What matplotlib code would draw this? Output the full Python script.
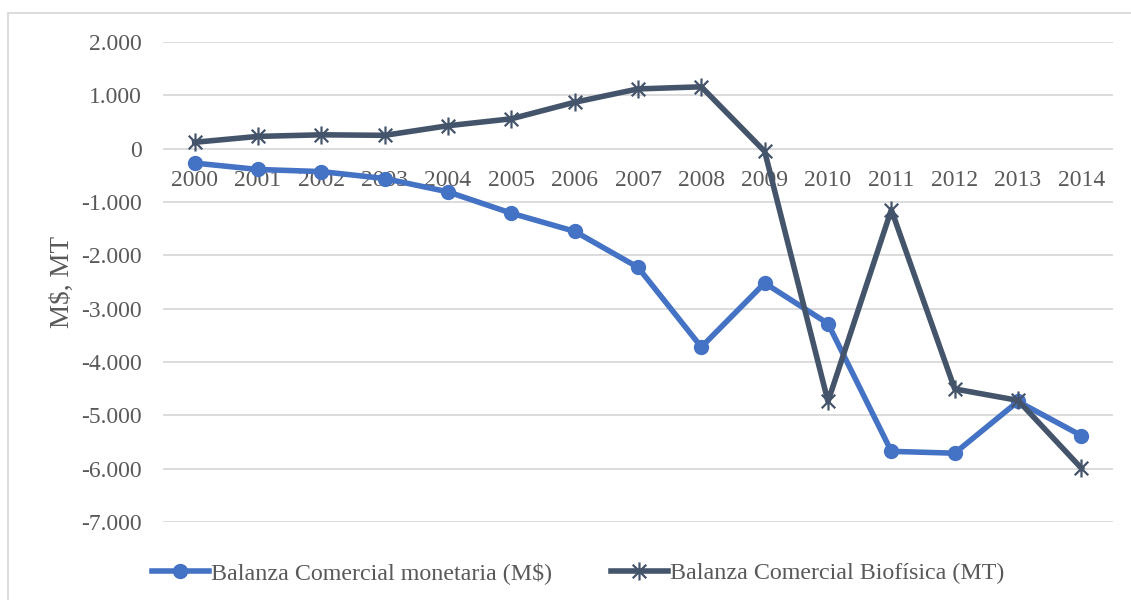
import matplotlib
matplotlib.use("Agg")
import matplotlib.pyplot as plt
from matplotlib.ticker import FuncFormatter
from matplotlib.patches import Rectangle
from matplotlib.path import Path

years = ["2000", "2001", "2002", "2003", "2004", "2005", "2006", "2007",
         "2008", "2009", "2010", "2011", "2012", "2013", "2014"]
monetaria = [-270, -390, -430, -560, -810, -1210, -1550, -2225,
             -3720, -2520, -3280, -5675, -5710, -4740, -5380]
biofisica = [120, 230, 260, 250, 430, 560, 870, 1120,
             1160, -50, -4740, -1145, -4505, -4720, -5990]

label_mon = "Balanza Comercial monetaria (M$)"
label_bio = "Balanza Comercial Biofísica (MT)"
ylabel = "M$, MT"

plt.rcParams['font.family'] = ['Liberation Serif', 'DejaVu Serif']
txt = '#595959'
fs = 17

# Excel-like star marker: vertical bar plus an X
star = Path([(0, -1), (0, 1), (-0.75, -0.75), (0.75, 0.75), (-0.75, 0.75), (0.75, -0.75)],
            [Path.MOVETO, Path.LINETO, Path.MOVETO, Path.LINETO, Path.MOVETO, Path.LINETO])

fig = plt.figure(figsize=(11.31, 6.0), dpi=100)
ax = fig.add_axes([163/1131, 1-522/600, 950/1131, 480/600])

x = list(range(len(years)))
ax.plot(x, monetaria, color='#4472C4', lw=4, marker='o', ms=10,
        label=label_mon, clip_on=False, zorder=3)
ax.plot(x, biofisica, color='#44546A', lw=4, marker=star, ms=13,
        mew=1.6, label=label_bio, clip_on=False, zorder=4)

ax.set_xlim(-0.5, len(years) - 0.5)
ax.set_ylim(-7000, 2000)
ax.set_yticks(range(-7000, 2001, 1000))
ax.yaxis.set_major_formatter(FuncFormatter(lambda v, p: f"{int(v):,}".replace(",", ".")))
ax.grid(axis='y', color='#D9D9D9', lw=1.3)
ax.set_axisbelow(True)
for s in ax.spines.values():
    s.set_visible(False)

ax.spines['bottom'].set_position(('data', 0))
ax.set_xticks(x)
ax.set_xticklabels(years)
ax.tick_params(axis='x', length=0, pad=15, labelsize=fs, colors=txt)
ax.tick_params(axis='y', length=0, pad=15, labelsize=fs, colors=txt)
ax.set_ylabel(ylabel, fontsize=19.5, color=txt, labelpad=5)

fig.legend(loc='center', bbox_to_anchor=(578/1131, 1-573/600), ncol=2,
           frameon=False, fontsize=17.3, labelcolor=txt, handlelength=2.37,
           handletextpad=0.1, columnspacing=2.45)

fig.patches.append(Rectangle((8/1131, -0.1), 2, 1.1 - 13/600,
                             transform=fig.transFigure, fill=False,
                             edgecolor='#D9D9D9', lw=1.3, clip_on=False))

fig.savefig("out.png", dpi=100)
